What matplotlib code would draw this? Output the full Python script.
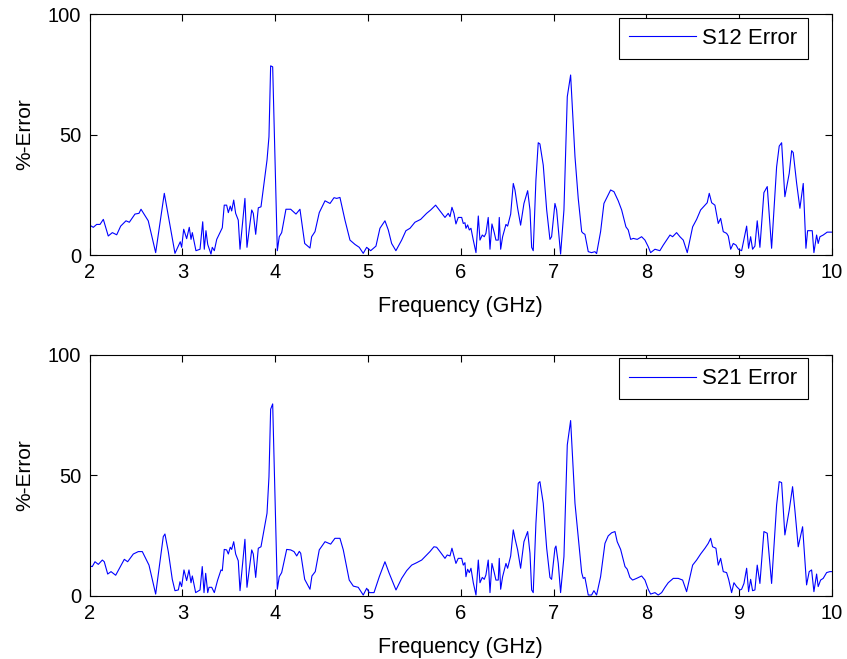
import matplotlib
matplotlib.use("Agg")
import matplotlib.pyplot as plt

# S12 error
freq_s12 = [2.000, 2.039, 2.075, 2.111, 2.147, 2.200, 2.244, 2.291, 2.334, 2.391,
            2.427, 2.488, 2.531, 2.553, 2.631, 2.711, 2.804, 2.919, 2.976, 2.991,
            3.013, 3.045, 3.073, 3.092, 3.106, 3.145, 3.189, 3.218, 3.235, 3.253,
            3.272, 3.307, 3.321, 3.343, 3.369, 3.429, 3.450, 3.476, 3.494, 3.515,
            3.530, 3.552, 3.573, 3.601, 3.620, 3.673, 3.695, 3.717, 3.746, 3.763,
            3.789, 3.817, 3.846, 3.911, 3.932, 3.950, 3.972, 4.022, 4.043, 4.069,
            4.115, 4.166, 4.223, 4.266, 4.317, 4.374, 4.392, 4.428, 4.474, 4.536,
            4.590, 4.633, 4.662, 4.697, 4.751, 4.805, 4.859, 4.905, 4.948, 4.985,
            5.028, 5.085, 5.128, 5.182, 5.218, 5.254, 5.300, 5.362, 5.408, 5.452,
            5.505, 5.567, 5.631, 5.675, 5.728, 5.782, 5.829, 5.864, 5.883, 5.904,
            5.926, 5.947, 5.972, 6.009, 6.026, 6.044, 6.055, 6.073, 6.091, 6.109,
            6.134, 6.163, 6.188, 6.206, 6.231, 6.252, 6.270, 6.295, 6.314, 6.335,
            6.360, 6.378, 6.403, 6.414, 6.429, 6.450, 6.486, 6.504, 6.537, 6.565,
            6.583, 6.612, 6.644, 6.680, 6.720, 6.745, 6.763, 6.780, 6.809, 6.834,
            6.852, 6.888, 6.925, 6.960, 6.978, 7.014, 7.032, 7.075, 7.111, 7.147,
            7.183, 7.230, 7.265, 7.302, 7.319, 7.337, 7.373, 7.409, 7.445, 7.463,
            7.506, 7.542, 7.578, 7.614, 7.650, 7.696, 7.733, 7.779, 7.804, 7.830,
            7.858, 7.901, 7.948, 7.984, 8.019, 8.045, 8.092, 8.145, 8.181, 8.218,
            8.254, 8.282, 8.325, 8.361, 8.397, 8.440, 8.498, 8.541, 8.584, 8.631,
            8.655, 8.677, 8.703, 8.738, 8.774, 8.800, 8.828, 8.864, 8.882, 8.908,
            8.936, 8.966, 8.990, 9.026, 9.051, 9.080, 9.101, 9.123, 9.144, 9.169,
            9.194, 9.223, 9.266, 9.302, 9.349, 9.403, 9.431, 9.457, 9.492, 9.539,
            9.565, 9.582, 9.619, 9.654, 9.690, 9.719, 9.737, 9.787, 9.805, 9.834,
            9.851, 9.870, 9.905, 9.948, 10.000]
err_s12 = [12.4, 11.5, 12.7, 12.7, 14.8, 7.9, 9.3, 8.4, 12.0, 14.2,
           13.6, 17.0, 17.3, 19.0, 14.2, 1.0, 25.6, 0.7, 5.5, 3.2,
           10.7, 6.8, 11.5, 6.5, 9.3, 1.8, 2.4, 13.8, 2.4, 10.1,
           4.4, 0.4, 3.2, 1.8, 6.5, 11.3, 20.7, 20.7, 17.6, 20.3,
           18.3, 22.8, 17.3, 14.5, 2.4, 23.5, 3.2, 10.0, 18.7, 17.3,
           8.6, 19.6, 20.0, 39.4, 49.1, 78.5, 78.1, 1.8, 7.6, 9.3,
           19.0, 19.0, 17.0, 19.0, 4.8, 2.9, 7.6, 9.7, 17.6, 22.5,
           21.4, 23.8, 23.5, 23.9, 14.5, 6.2, 4.4, 3.2, 0.7, 3.2,
           1.8, 3.7, 11.1, 14.2, 10.4, 4.8, 1.8, 6.2, 10.1, 11.1,
           13.6, 14.8, 17.3, 18.7, 20.7, 18.0, 15.6, 17.3, 15.9, 19.8,
           17.3, 12.9, 15.6, 15.6, 13.1, 13.4, 11.1, 12.5, 10.4, 11.1,
           6.2, 1.0, 16.2, 6.2, 8.3, 7.6, 9.0, 15.6, 2.4, 12.9,
           9.3, 6.2, 6.2, 15.6, 2.4, 7.6, 12.7, 12.0, 17.0, 29.7,
           27.0, 19.4, 12.4, 21.4, 26.7, 18.7, 3.2, 1.8, 31.1, 46.6,
           46.1, 37.3, 18.7, 6.5, 7.6, 21.4, 18.7, 0.4, 18.7, 65.7,
           74.7, 40.8, 23.5, 9.7, 9.0, 8.6, 1.4, 1.0, 1.4, 0.6,
           9.7, 21.4, 24.2, 27.0, 26.3, 22.5, 18.7, 11.7, 10.4, 6.5,
           6.9, 6.5, 7.6, 6.2, 3.5, 1.0, 2.4, 1.8, 4.1, 6.2,
           8.3, 7.6, 9.3, 7.6, 6.2, 1.0, 11.7, 14.8, 18.7, 20.7,
           21.7, 25.6, 21.7, 20.7, 13.1, 15.2, 9.7, 9.0, 7.9, 2.4,
           4.8, 4.1, 2.4, 1.8, 6.5, 12.0, 2.8, 7.6, 2.4, 3.7,
           14.2, 3.2, 25.9, 28.4, 2.8, 36.6, 45.2, 46.6, 24.2, 33.9,
           43.3, 42.5, 29.7, 19.4, 29.7, 2.8, 10.1, 10.1, 1.0, 8.3,
           4.8, 7.6, 8.3, 9.5, 9.5]

# S21 error
freq_s21 = [2.000, 2.028, 2.057, 2.093, 2.136, 2.157, 2.194, 2.230, 2.280, 2.327,
            2.373, 2.409, 2.470, 2.524, 2.567, 2.639, 2.711, 2.793, 2.811, 2.847,
            2.890, 2.919, 2.955, 2.973, 2.991, 3.016, 3.045, 3.070, 3.092, 3.106,
            3.142, 3.189, 3.213, 3.232, 3.250, 3.272, 3.286, 3.315, 3.343, 3.379,
            3.415, 3.429, 3.450, 3.476, 3.494, 3.515, 3.530, 3.552, 3.573, 3.601,
            3.620, 3.673, 3.695, 3.717, 3.746, 3.763, 3.789, 3.817, 3.846, 3.911,
            3.932, 3.950, 3.972, 4.022, 4.043, 4.069, 4.123, 4.166, 4.202, 4.231,
            4.259, 4.274, 4.317, 4.374, 4.395, 4.431, 4.474, 4.536, 4.597, 4.643,
            4.697, 4.733, 4.797, 4.841, 4.894, 4.948, 4.985, 5.013, 5.064, 5.121,
            5.182, 5.228, 5.301, 5.362, 5.416, 5.470, 5.524, 5.578, 5.631, 5.667,
            5.710, 5.739, 5.775, 5.829, 5.853, 5.883, 5.904, 5.926, 5.947, 5.972,
            6.009, 6.026, 6.044, 6.055, 6.073, 6.091, 6.109, 6.134, 6.163, 6.188,
            6.206, 6.231, 6.252, 6.270, 6.295, 6.314, 6.335, 6.360, 6.378, 6.403,
            6.414, 6.429, 6.450, 6.486, 6.504, 6.537, 6.565, 6.583, 6.612, 6.644,
            6.680, 6.720, 6.745, 6.763, 6.780, 6.809, 6.834, 6.852, 6.888, 6.925,
            6.960, 6.978, 7.014, 7.025, 7.050, 7.075, 7.111, 7.147, 7.183, 7.230,
            7.265, 7.302, 7.319, 7.337, 7.373, 7.409, 7.434, 7.463, 7.506, 7.553,
            7.588, 7.625, 7.661, 7.685, 7.722, 7.769, 7.793, 7.822, 7.851, 7.894,
            7.948, 7.984, 8.019, 8.045, 8.092, 8.127, 8.164, 8.200, 8.235, 8.289,
            8.343, 8.390, 8.433, 8.498, 8.541, 8.584, 8.631, 8.666, 8.692, 8.713,
            8.749, 8.774, 8.800, 8.828, 8.864, 8.886, 8.918, 8.943, 8.972, 9.008,
            9.026, 9.051, 9.080, 9.101, 9.123, 9.144, 9.169, 9.194, 9.223, 9.266,
            9.302, 9.349, 9.403, 9.431, 9.457, 9.492, 9.539, 9.575, 9.600, 9.636,
            9.683, 9.726, 9.754, 9.780, 9.805, 9.834, 9.851, 9.877, 9.905, 9.942,
            9.977, 10.000]
err_s21 = [12.4, 12.2, 14.2, 13.1, 14.9, 14.2, 9.1, 10.1, 8.6, 11.9,
           15.2, 14.2, 17.4, 18.4, 18.4, 12.8, 0.8, 24.6, 25.7, 18.4,
           6.9, 2.2, 2.5, 5.9, 3.9, 10.8, 6.4, 10.8, 5.5, 8.3,
           1.4, 2.5, 12.2, 1.4, 9.4, 1.4, 3.6, 3.6, 1.4, 6.6,
           10.8, 10.5, 19.3, 19.1, 17.4, 20.2, 19.3, 22.5, 17.4, 14.6,
           2.2, 23.5, 3.6, 10.1, 19.1, 17.4, 7.7, 19.8, 20.4, 34.3,
           49.4, 77.4, 79.6, 2.8, 8.0, 9.7, 19.3, 19.1, 18.4, 16.6,
           18.5, 17.7, 6.9, 2.8, 8.3, 10.1, 19.1, 22.5, 21.5, 23.9,
           23.9, 19.1, 6.6, 4.1, 3.6, 0.4, 3.2, 1.4, 1.4, 8.0,
           14.2, 9.4, 2.5, 7.3, 10.5, 12.8, 13.8, 14.9, 17.0, 18.4,
           20.4, 20.2, 18.4, 15.6, 17.0, 16.6, 19.8, 16.6, 13.5, 15.6,
           15.6, 12.8, 13.8, 8.0, 11.1, 9.7, 11.5, 5.5, 0.4, 14.9,
           5.5, 7.7, 6.9, 8.7, 14.9, 1.4, 13.5, 9.7, 6.6, 6.6,
           15.6, 2.8, 8.0, 13.5, 11.5, 16.6, 27.4, 23.9, 19.1, 11.5,
           22.5, 26.7, 17.7, 2.5, 1.4, 30.1, 46.7, 47.4, 38.4, 19.8,
           7.7, 6.9, 19.8, 20.7, 13.5, 1.4, 16.3, 62.6, 72.7, 38.4,
           24.6, 9.7, 7.3, 7.7, 0.4, 0.4, 2.2, 0.4, 8.0, 21.8,
           24.9, 26.2, 26.7, 22.5, 19.3, 12.2, 11.1, 7.7, 6.6, 7.3,
           8.3, 6.6, 2.8, 0.8, 1.4, 0.4, 1.4, 3.6, 5.5, 7.3,
           7.3, 6.6, 1.8, 12.8, 14.9, 17.4, 19.8, 21.8, 23.9, 20.4,
           19.8, 12.8, 15.6, 10.1, 9.7, 6.9, 1.4, 5.5, 3.9, 2.5,
           2.8, 5.2, 11.5, 1.8, 6.9, 2.2, 2.5, 12.8, 5.2, 26.7,
           26.0, 5.2, 37.7, 47.4, 47.0, 25.3, 35.6, 45.3, 35.6, 20.4,
           28.7, 4.6, 10.1, 10.8, 1.8, 9.1, 3.9, 6.6, 7.3, 9.7,
           10.1, 10.1]

x_ticks = [2, 3, 4, 5, 6, 7, 8, 9, 10]
y_ticks = [0, 50, 100]

plt.rcParams['font.family'] = ['Liberation Sans', 'DejaVu Sans']
plt.rcParams['font.size'] = 14.5

fig = plt.figure(figsize=(8.47, 6.59), dpi=100)
ax1 = fig.add_axes([0.1059, 0.613, 0.8764, 0.3657])
ax2 = fig.add_axes([0.1059, 0.0956, 0.8764, 0.3662])

panels = [(ax1, freq_s12, err_s12, 'S12 Error'),
          (ax2, freq_s21, err_s21, 'S21 Error')]

for ax, f, e, name in panels:
    ax.plot(f, e, color=(0, 0, 1), linewidth=0.8, label=name)
    ax.set_xlim(2, 10)
    ax.set_ylim(0, 100)
    ax.set_xticks(x_ticks)
    ax.set_yticks(y_ticks)
    ax.tick_params(direction='in', top=True, right=True, length=5,
                   width=0.8, pad=6, labelsize=14.5)
    for sp in ax.spines.values():
        sp.set_linewidth(0.8)
    ax.set_xlabel('Frequency (GHz)', fontsize=15.5)
    ax.set_ylabel('%-Error', fontsize=15)
    ax.yaxis.set_label_coords(-0.075, 0.5)
    ax.xaxis.set_label_coords(0.5, -0.17)
    leg = ax.legend(loc='upper right', bbox_to_anchor=(0.967, 0.985),
                    borderaxespad=0, fancybox=False, framealpha=1,
                    edgecolor='black', handlelength=3.0, handletextpad=0.3,
                    borderpad=0.45, fontsize=16)
    leg.get_frame().set_linewidth(0.8)

fig.savefig('out.png', dpi=100)
